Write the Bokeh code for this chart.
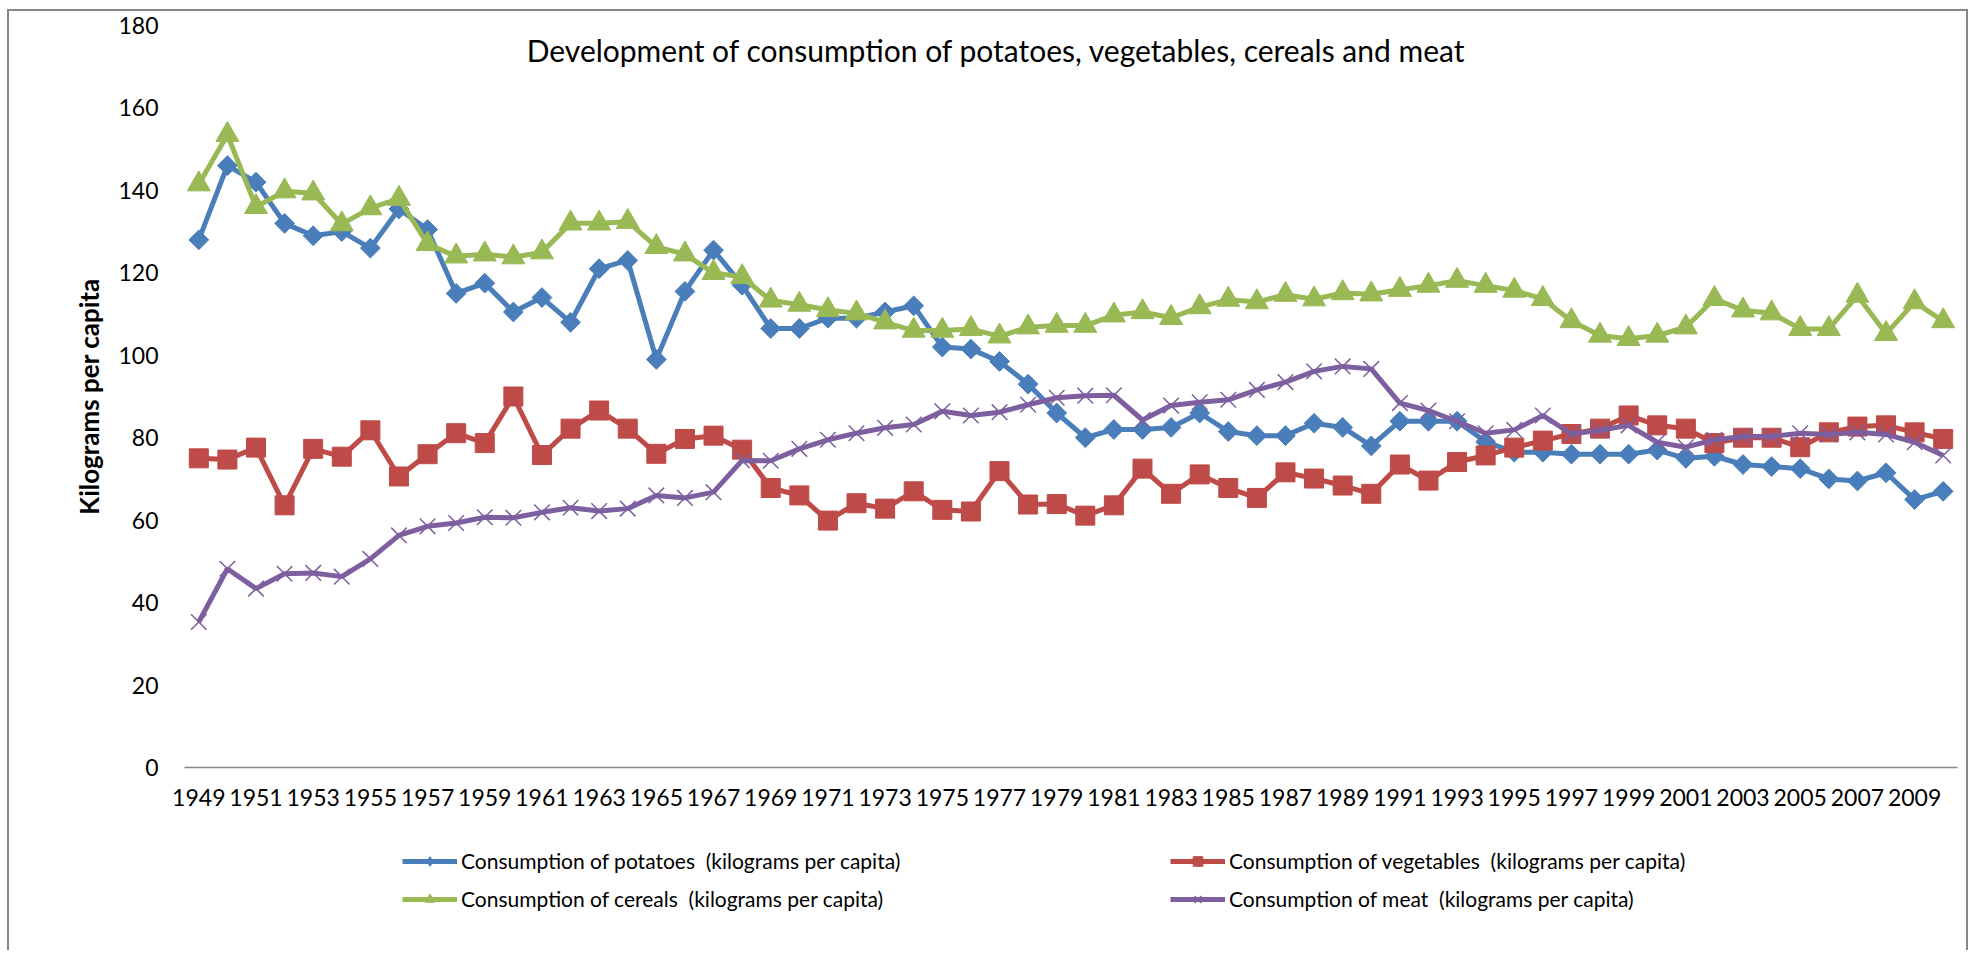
import math
from bokeh.plotting import figure
from bokeh.models import Range1d, FixedTicker, Legend, LegendItem, Label
from bokeh.layouts import column
from bokeh.embed import file_html
from bokeh.resources import INLINE

years = [1949, 1950, 1951, 1952, 1953, 1954, 1955, 1956, 1957, 1958,
         1959, 1960, 1961, 1962, 1963, 1964, 1965, 1966, 1967, 1968,
         1969, 1970, 1971, 1972, 1973, 1974, 1975, 1976, 1977, 1978,
         1979, 1980, 1981, 1982, 1983, 1984, 1985, 1986, 1987, 1988,
         1989, 1990, 1991, 1992, 1993, 1994, 1995, 1996, 1997, 1998,
         1999, 2000, 2001, 2002, 2003, 2004, 2005, 2006, 2007, 2008,
         2009, 2010]

potatoes = [128, 146, 142, 132, 129, 130, 126, 135.5, 130.5, 115,
            117.5, 110.5, 114, 108, 121, 123, 99, 115.5, 125.5, 117,
            106.5, 106.5, 109, 109, 110.5, 112, 102, 101.5, 98.5, 93,
            86, 80, 82, 82, 82.5, 86, 81.5, 80.5, 80.5, 83.5,
            82.5, 78, 84, 84, 84, 79, 76.5, 76.5, 76, 76,
            76, 77, 75, 75.5, 73.5, 73, 72.5, 70, 69.5, 71.5,
            65, 67]

vegetables = [75, 74.7, 77.6, 63.6, 77.3, 75.4, 81.8, 70.6, 76, 81.1,
              78.7, 90, 75.8, 82.2, 86.6, 82.2, 76.1, 79.7, 80.5, 77.1,
              67.8, 66, 59.9, 64.1, 62.8, 67, 62.5, 62.1, 71.9, 63.8,
              63.9, 61.1, 63.6, 72.5, 66.4, 71.1, 67.8, 65.4, 71.6, 70.1,
              68.4, 66.4, 73.5, 69.6, 74.1, 75.7, 77.6, 79.3, 80.9, 82.2,
              85.4, 83, 82.2, 78.7, 80, 80, 77.7, 81.3, 82.7, 83,
              81.3, 79.7]

cereals = [141.5, 153.5, 136, 139.8, 139.3, 131.8, 135.7, 138, 127, 124,
           124.5, 123.8, 125, 132, 132, 132.4, 126.3, 124.5, 120, 119,
           113.3, 112.3, 111, 110.2, 108, 106, 106, 106.4, 104.6, 106.8,
           107.2, 107.2, 109.7, 110.5, 109.1, 111.7, 113.5, 112.9, 114.7, 113.6,
           115.1, 114.8, 115.9, 116.9, 118.1, 116.9, 115.7, 113.7, 108.3, 104.8,
           104, 104.8, 106.8, 113.7, 110.9, 110.2, 106.4, 106.4, 114.5, 105.2,
           112.9, 108.3]

meat = [35.3, 48.2, 43.4, 47, 47.2, 46.3, 50.6, 56.3, 58.5, 59.3,
        60.7, 60.6, 61.9, 63, 62.2, 62.8, 66, 65.4, 66.8, 74.5,
        74.4, 77.3, 79.5, 81.1, 82.4, 83.2, 86.4, 85.4, 86.2, 88,
        89.7, 90.2, 90.3, 84.3, 87.8, 88.6, 89.2, 91.6, 93.5, 96.1,
        97.3, 96.7, 88.4, 86.6, 84, 81.1, 81.9, 85.4, 80.9, 81.8,
        83, 78.9, 77.7, 79.5, 80.3, 80.3, 81.1, 80.8, 81.3, 80.8,
        78.9, 75.7]

x_tick_years = [1949, 1951, 1953, 1955, 1957, 1959, 1961, 1963, 1965, 1967,
                1969, 1971, 1973, 1975, 1977, 1979, 1981, 1983, 1985, 1987,
                1989, 1991, 1993, 1995, 1997, 1999, 2001, 2003, 2005, 2007, 2009]
y_ticks = [0, 20, 40, 60, 80, 100, 120, 140, 160, 180]

series_names = ["Consumption of potatoes  (kilograms per capita)",
                "Consumption of vegetables  (kilograms per capita)",
                "Consumption of cereals  (kilograms per capita)",
                "Consumption of meat  (kilograms per capita)"]

FONT = "Lato"
colors = ["#4A7EBB", "#BE4B48", "#98B954", "#7D5FA0"]
markers = ["square", "square", "triangle", "x"]
legend_markers = ["diamond", "square", "triangle", "x"]
angles = [math.pi / 4, 0, 0, 0]
msizes = [14, 19, 23, 22]
series = [potatoes, vegetables, cereals, meat]
lw = 5


def add_series(fig, vals, c, m, s, a):
    rl = fig.line(years, vals, line_color=c, line_width=lw)
    if m == "x":
        rs = fig.scatter(years, vals, marker=m, size=s, line_color=c, line_width=1.5)
    else:
        rs = fig.scatter(years, vals, marker=m, size=s, angle=a,
                         fill_color=c, line_color=c)
    return rl, rs


W = 1957
p = figure(width=W, height=817, output_backend="svg", toolbar_location=None,
           x_range=Range1d(1948.5, 2010.5), y_range=Range1d(0, 180),
           min_border_left=175, min_border_right=9, min_border_top=14,
           min_border_bottom=61)
p.outline_line_color = None
p.xgrid.grid_line_color = None
p.ygrid.grid_line_color = None
p.background_fill_color = "white"
p.border_fill_color = "white"

p.xaxis.ticker = FixedTicker(ticks=x_tick_years)
p.xaxis.minor_tick_line_color = None
p.xaxis.major_tick_line_color = None
p.xaxis.major_tick_out = 0
p.xaxis.major_tick_in = 0
p.xaxis.axis_line_color = "#868686"
p.xaxis.axis_line_width = 1.5
p.xaxis.major_label_text_font = FONT
p.xaxis.major_label_text_font_size = "23px"
p.xaxis.major_label_text_color = "black"
p.xaxis.major_label_standoff = 21

p.yaxis.ticker = FixedTicker(ticks=y_ticks)
p.yaxis.minor_tick_line_color = None
p.yaxis.major_tick_line_color = None
p.yaxis.major_tick_out = 0
p.yaxis.major_tick_in = 0
p.yaxis.axis_line_color = None
p.yaxis.major_label_text_font = FONT
p.yaxis.major_label_text_font_size = "23px"
p.yaxis.major_label_text_color = "black"
p.yaxis.major_label_standoff = 26
p.yaxis.axis_label = "Kilograms per capita"
p.yaxis.axis_label_text_font = FONT
p.yaxis.axis_label_text_font_size = "26px"
p.yaxis.axis_label_text_font_style = "bold"
p.yaxis.axis_label_text_color = "black"
p.yaxis.axis_label_standoff = 10

for vals, c, m, s, a in zip(series, colors, markers, msizes, angles):
    add_series(p, vals, c, m, s, a)

title = Label(x=812, y=718, x_units="screen", y_units="screen",
              text="Development of consumption of potatoes, vegetables, cereals and meat",
              text_font=FONT, text_font_size="30px", text_align="center",
              text_baseline="middle", text_color="black")
p.add_layout(title)

# legend panel below the chart
p2 = figure(width=W, height=122, output_backend="svg", toolbar_location=None,
            x_range=Range1d(0, 1), y_range=Range1d(0, 1),
            x_axis_location=None, y_axis_location=None,
            min_border_left=175, min_border_right=9, min_border_top=0,
            min_border_bottom=0)
p2.outline_line_color = None
p2.xgrid.grid_line_color = None
p2.ygrid.grid_line_color = None
p2.border_fill_color = "white"

items = []
for name, vals, c, m, s in zip(series_names, series, colors, legend_markers, msizes):
    rl, rs = add_series(p2, vals, c, m, s, 0)
    items.append(LegendItem(label=name, renderers=[rl, rs]))

legend = Legend(items=items, location=(218, 39), orientation="horizontal", ncols=2)
legend.label_text_font = FONT
legend.label_text_font_size = "21px"
legend.label_text_color = "black"
legend.glyph_width = 55
legend.glyph_height = 24
legend.label_height = 24
legend.label_width = 696
legend.label_standoff = 4
legend.spacing = 13
legend.padding = 10
legend.margin = 0
legend.border_line_color = None
legend.background_fill_alpha = 0
p2.add_layout(legend, "center")

layout = column(p, p2, spacing=0)
layout.styles = {"margin-left": "7px", "margin-top": "9px",
                 "border-left": "2px solid #878787", "border-top": "2px solid #878787",
                 "border-right": "2px solid #878787"}

open("out.html", "w").write(file_html(layout, INLINE))
